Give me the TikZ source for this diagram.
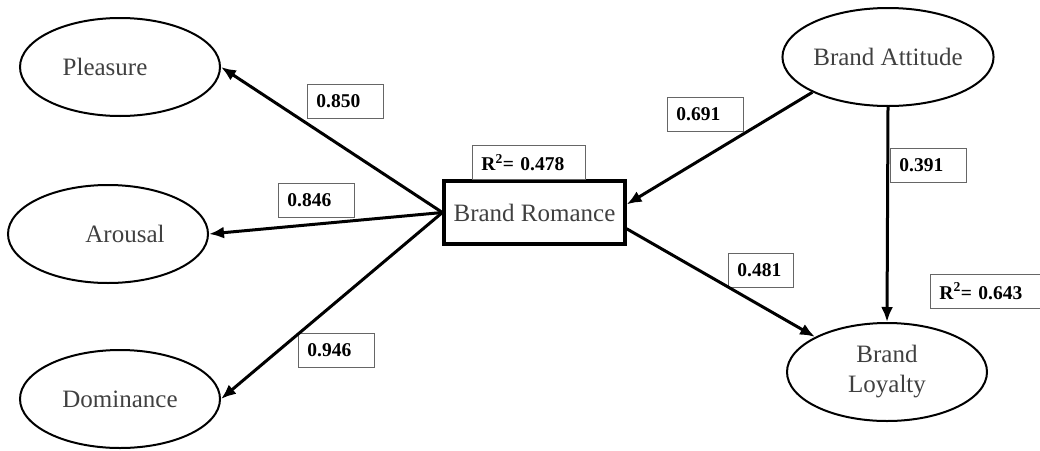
\documentclass[tikz,border=0pt]{standalone}
\usepackage{fontspec}
\setmainfont{Liberation Serif}
\usetikzlibrary{shapes.geometric,arrows.meta}

\begin{document}
\begin{tikzpicture}
        [x=1pt,y=-1pt,
         latent/.style={ellipse,draw,line width=2pt,minimum width=200pt,minimum height=98pt,inner sep=0pt,align=center,text=black!75,font=\fontsize{25}{30}\selectfont},
         composite/.style={rectangle,draw,line width=3.2pt,minimum width=181pt,minimum height=63pt,text=black!75,font=\fontsize{25}{30}\selectfont},
         coef/.style={rectangle,draw=black!60,line width=.9pt,anchor=west,inner xsep=9pt,minimum height=34pt,align=left,text width=58pt,font=\bfseries\fontsize{19.5}{21}\selectfont},
         arr/.style={line width=3pt,-{Latex[length=15pt,width=12pt]}}]
        \useasboundingbox (0,0) rectangle (1040,450);

        \node[latent] (ple) at (120,67) {Pleasure\hspace*{30pt}};
        \node[latent] (aro) at (108,234) {\hspace*{34pt}Arousal};
        \node[latent] (dom) at (120,399) {Dominance};
        \node[composite] (rom) at (534.5,212.5) {Brand Romance};
        \node[latent] (att) at (888,57) {Brand Attitude};
        \node[latent] (loy) at (887,372) {Brand\\Loyalty};

        \node[coef] (c1) at (307,101) {0.850};
        \node[coef] (c2) at (278,200.5) {0.846};
        \node[coef] (c3) at (298,350.5) {0.946};
        \node[coef] (c4) at (667,114.5) {0.691};
        \node[coef] (c5) at (890,165) {0.391};
        \node[coef,text width=47pt] (c6) at (728,270.5) {0.481};
        \node[coef,text width=95pt] (r1) at (472,162.5) {R\textsuperscript{2}= 0.478};
        \node[coef,text width=95pt] (r2) at (930,291) {R\textsuperscript{2}= 0.643};

        \path [arr] (rom.west) edge (ple.east);
        \path [arr] (rom.west) edge (aro.east);
        \path [arr] (rom.west) edge (dom.east);
        \path [arr] (att.-155) edge (rom.5);
        \path [arr] (att.south) edge (loy.north);
        \path [arr] (rom.-10) edge (loy.154);

    \end{tikzpicture}
\end{document}
